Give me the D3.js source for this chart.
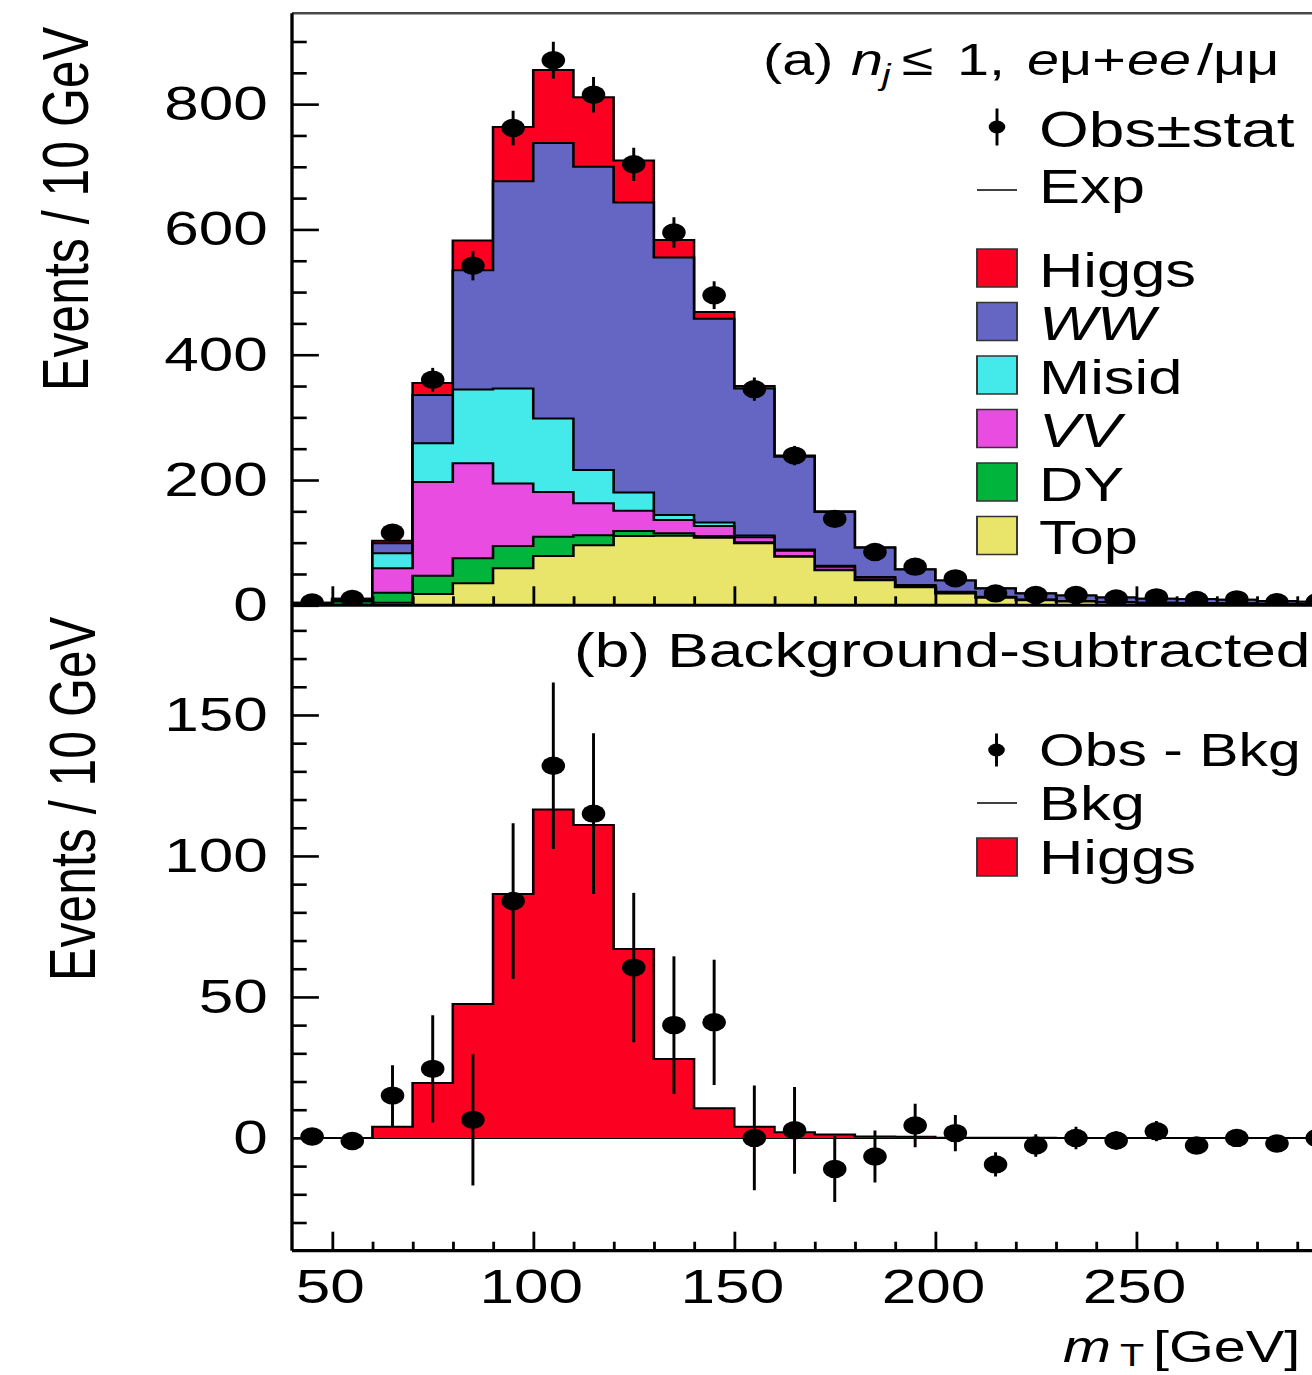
<!DOCTYPE html>
<html>
<head>
<meta charset="utf-8">
<script src="https://cdn.jsdelivr.net/npm/d3@7"></script>
<style>
  body { margin: 0; background: #fff; overflow: hidden; }
  text { font-family: "Liberation Sans", Arial, Helvetica, sans-serif; }
</style>
</head>
<body>
<svg id="chart"></svg>
<script>
// m_T distribution, 10 GeV bins (low edges)
const binLow = [40, 50, 60, 70, 80, 90, 100, 110, 120, 130, 140, 150, 160, 170, 180, 190, 200, 210, 220, 230, 240, 250, 260, 270, 280, 290]
const binEdgeMax = 300

// stacked expectation, events / bin
const topPair = [0.5, 1, 4, 18, 35, 59, 78.7, 96, 110.6, 111, 108, 99, 77.6, 56, 40, 29, 19, 12, 8, 6, 4.5, 3.5, 3, 2.5, 2, 1.5]
const drellYan = [2, 5, 16, 29, 40, 35.6, 30.8, 16, 8, 4, 2.6, 1.5, 1, 0.6, 0.5, 0.3, 0.2, 0.1, 0, 0, 0, 0, 0, 0, 0, 0]
const diboson = [0.5, 2, 39, 150, 151.6, 100, 71.5, 50.8, 32.4, 21, 16, 8, 8.4, 5, 3.5, 2.5, 1.8, 1.2, 0.8, 0.6, 0.5, 0.4, 0.4, 0.3, 0.3, 0.2]
const misid = [0.5, 1.5, 24, 61.5, 118, 151.3, 117, 53.2, 29, 8, 5.5, 3, 2, 1.5, 1, 0.7, 0.5, 0.4, 0.3, 0.2, 0.2, 0.1, 0.1, 0.1, 0, 0]
const ww = [0.5, 1, 16, 77, 190.4, 331, 440, 484, 463, 411, 325.4, 234.5, 148, 86, 47, 24.5, 18, 13.3, 9.9, 8.7, 7.3, 6.5, 6.5, 6.1, 4.7, 3.8]
const higgs = [0, 0, 4, 19.5, 47.5, 86.5, 116.5, 111, 67, 28, 10.5, 4, 2, 1.2, 0.5, 0.4, 0.1, 0.1, 0.1, 0, 0, 0, 0, 0, 0, 0]

// observed
const obsCounts = [4.5, 10, 116, 360, 542, 762, 870, 815, 704, 595, 495, 345, 239, 138, 85, 61.7, 43, 19, 16.4, 16.4, 11, 12.7, 8.5, 9.5, 5, 5]
const statErr = [2, 3.2, 10.8, 19, 23.3, 27.6, 29.5, 28.5, 26.5, 24.4, 22.2, 18.6, 15.4, 11.7, 9.2, 7.7, 6.4, 4.3, 4, 4, 3.3, 3.6, 2.9, 3, 2.2, 2.2]
const obsMinusBkg = [0.5, -1.1, 15, 24.5, 6.4, 84, 132, 115, 60.4, 40, 41, 0, 2.7, -11, -6.6, 4.4, 1.7, -9.4, -2.7, 0, -0.9, 2.4, -2.7, 0, -2, 0]

const keys = ['Top', 'DY', 'VV', 'Misid', 'WW', 'Higgs']
const colors = {
  Higgs: '#fb0020',
  WW: '#6566c3',
  Misid: '#44e9e9',
  VV: '#e84ce0',
  DY: '#00b43c',
  Top: '#e9e56b'
}

const W = 1312
const H = 1375
const SX = 1.28 // the whole figure is drawn a bit wider than tall

const svg = d3.select('#chart').attr('width', W).attr('height', H)
const g = svg.append('g').attr('transform', `scale(${SX},1)`)

const x = d3.scaleLinear().domain([40, 300]).range([292 / SX, 1337.3 / SX])
const yTop = d3.scaleLinear().domain([0, 945]).range([605.3, 13.3])
const yBot = d3.scaleLinear().domain([-40, 189]).range([1250.7, 605])

const defs = g.append('defs')
defs.append('clipPath').attr('id', 'clipTop')
  .append('rect')
  .attr('x', x(40)).attr('y', yTop(945))
  .attr('width', x(300) - x(40)).attr('height', yTop(0) - yTop(945))
defs.append('clipPath').attr('id', 'clipBot')
  .append('rect')
  .attr('x', x(40)).attr('y', yBot(189))
  .attr('width', x(300) - x(40)).attr('height', yBot(-40) - yBot(189))

function stepPoints (vals) {
  const pts = binLow.map((lo, i) => [lo, vals[i]])
  pts.push([binEdgeMax, vals[vals.length - 1]])
  return pts
}

// ---- (a) stacked histogram
const rows = binLow.map((lo, i) => ({
  lo,
  Top: topPair[i],
  DY: drellYan[i],
  VV: diboson[i],
  Misid: misid[i],
  WW: ww[i],
  Higgs: higgs[i]
}))
const stacked = d3.stack().keys(keys)(rows)

const topArea = d3.area()
  .curve(d3.curveStepAfter)
  .x(p => x(p[0]))
  .y0(yTop(0))
  .y1(p => yTop(p[1]))

const topG = g.append('g').attr('clip-path', 'url(#clipTop)')
stacked.slice().reverse().forEach(s => {
  topG.append('path')
    .datum(stepPoints(s.map(d => d[1])))
    .attr('d', topArea)
    .attr('fill', colors[s.key])
    .attr('stroke', '#000')
    .attr('stroke-width', 2)
})

// ---- (b) background subtracted
const botG = g.append('g').attr('clip-path', 'url(#clipBot)')
botG.append('line')
  .attr('x1', x(40)).attr('x2', x(300))
  .attr('y1', yBot(0)).attr('y2', yBot(0))
  .attr('stroke', '#000').attr('stroke-width', 2)

botG.append('path')
  .datum(stepPoints(higgs))
  .attr('d', d3.area().curve(d3.curveStepAfter)
    .x(p => x(p[0])).y0(yBot(0)).y1(p => yBot(p[1])))
  .attr('fill', colors.Higgs)

botG.append('path')
  .datum(stepPoints(higgs))
  .attr('d', d3.line().curve(d3.curveStepAfter)
    .x(p => x(p[0])).y(p => yBot(p[1])))
  .attr('fill', 'none')
  .attr('stroke', '#000')
  .attr('stroke-width', 2)

// ---- axes
const tickFont = 48.5
const family = '"Liberation Sans", Arial, Helvetica, sans-serif'

function styleAxis (sel, width) {
  sel.attr('font-family', family).attr('font-size', tickFont)
  sel.select('.domain').remove()
  sel.selectAll('.tick line').attr('stroke', '#000').attr('stroke-width', width)
  sel.selectAll('.tick text').attr('fill', '#000')
}

// y axes (ticks point inside)
g.append('g')
  .attr('transform', `translate(${x(40)},0)`)
  .call(d3.axisLeft(yTop).tickValues([0, 200, 400, 600, 800])
    .tickSize(-21).tickSizeOuter(0).tickPadding(19).tickFormat(d3.format('d')))
  .call(s => styleAxis(s, 2.6))
g.append('g')
  .attr('transform', `translate(${x(40)},0)`)
  .call(d3.axisLeft(yTop).tickValues(d3.range(50, 945, 50).filter(v => v % 200))
    .tickSize(-11.5).tickSizeOuter(0).tickFormat(''))
  .call(s => styleAxis(s, 2.6))

g.append('g')
  .attr('transform', `translate(${x(40)},0)`)
  .call(d3.axisLeft(yBot).tickValues([0, 50, 100, 150])
    .tickSize(-21).tickSizeOuter(0).tickPadding(19).tickFormat(d3.format('d')))
  .call(s => styleAxis(s, 2.6))
g.append('g')
  .attr('transform', `translate(${x(40)},0)`)
  .call(d3.axisLeft(yBot).tickValues(d3.range(-30, 189, 10).filter(v => v % 50))
    .tickSize(-11.5).tickSizeOuter(0).tickFormat(''))
  .call(s => styleAxis(s, 2.6))

// x axes (the picture is cut just before the 300 label)
const xMajor = [50, 100, 150, 200, 250]
const xMinor = d3.range(60, 300, 10).filter(v => v % 50)

g.append('g')
  .attr('transform', `translate(0,${yBot(-40)})`)
  .call(d3.axisBottom(x).tickValues(xMajor)
    .tickSize(-19).tickSizeOuter(0).tickPadding(18).tickFormat(d3.format('d')))
  .call(s => styleAxis(s, 2.2))
  .call(s => s.selectAll('.tick text').attr('dx', -2.5 / SX))
g.append('g')
  .attr('transform', `translate(0,${yBot(-40)})`)
  .call(d3.axisBottom(x).tickValues(xMinor).tickSize(-9).tickSizeOuter(0).tickFormat(''))
  .call(s => styleAxis(s, 2.2))

g.append('g')
  .attr('transform', `translate(0,${yTop(0)})`)
  .call(d3.axisBottom(x).tickValues(xMajor).tickSize(-19).tickSizeOuter(0).tickFormat(''))
  .call(s => styleAxis(s, 2.2))
g.append('g')
  .attr('transform', `translate(0,${yTop(0)})`)
  .call(d3.axisBottom(x).tickValues(xMinor).tickSize(-9).tickSizeOuter(0).tickFormat(''))
  .call(s => styleAxis(s, 2.2))

// frame lines
g.append('line')
  .attr('x1', x(40)).attr('x2', x(300))
  .attr('y1', yTop(945)).attr('y2', yTop(945))
  .attr('stroke', '#4a4a4a').attr('stroke-width', 2.6)
g.append('line')
  .attr('x1', x(40)).attr('x2', x(40))
  .attr('y1', yTop(945)).attr('y2', yBot(-40))
  .attr('stroke', '#000').attr('stroke-width', 2.6)
g.append('line')
  .attr('x1', x(40)).attr('x2', x(300))
  .attr('y1', yTop(0)).attr('y2', yTop(0))
  .attr('stroke', '#000').attr('stroke-width', 3)
g.append('line')
  .attr('x1', x(40)).attr('x2', x(300))
  .attr('y1', yBot(-40)).attr('y2', yBot(-40))
  .attr('stroke', '#000').attr('stroke-width', 3.2)

// ---- data points
const dotR = 9.2
const errW = 2.3

function drawPoints (parent, yS, vals) {
  const pts = parent.append('g')
  pts.selectAll('line.err')
    .data(vals)
    .join('line')
    .attr('class', 'err')
    .attr('x1', (d, i) => x(binLow[i] + 5))
    .attr('x2', (d, i) => x(binLow[i] + 5))
    .attr('y1', (d, i) => yS(d - statErr[i]))
    .attr('y2', (d, i) => yS(d + statErr[i]))
    .attr('stroke', '#000')
    .attr('stroke-width', errW)
  pts.selectAll('circle')
    .data(vals)
    .join('circle')
    .attr('cx', (d, i) => x(binLow[i] + 5))
    .attr('cy', d => yS(d))
    .attr('r', dotR)
    .attr('fill', '#000')
}

drawPoints(g.append('g').attr('clip-path', 'url(#clipTop)'), yTop, obsCounts)
drawPoints(g.append('g').attr('clip-path', 'url(#clipBot)'), yBot, obsMinusBkg)

// ---- axis titles
const tx = v => v / SX

g.append('text')
  .attr('transform', `translate(${tx(88)},27) rotate(-90)`)
  .attr('text-anchor', 'end')
  .attr('font-size', 50)
  .text('Events / 10 GeV')
g.append('text')
  .attr('transform', `translate(${tx(95)},617) rotate(-90)`)
  .attr('text-anchor', 'end')
  .attr('font-size', 50)
  .text('Events / 10 GeV')

const xTitle = g.append('text')
  .attr('x', tx(1063)).attr('y', 1362)
  .attr('font-size', 45)
xTitle.append('tspan').attr('font-style', 'italic').text('m')
xTitle.append('tspan').attr('x', tx(1120)).attr('dy', 4).attr('font-size', 31).text('T')
xTitle.append('tspan').attr('x', tx(1153)).attr('dy', -4).text('[GeV]')

// ---- panel labels
const labA = g.append('text').attr('y', 75).attr('font-size', 45)
labA.append('tspan').attr('x', tx(763)).text('(a)')
labA.append('tspan').attr('x', tx(851)).attr('font-style', 'italic').text('n')
labA.append('tspan').attr('x', tx(882)).attr('dy', 10).attr('font-size', 30).attr('font-style', 'italic').text('j')
labA.append('tspan').attr('x', tx(902)).attr('dy', -10).text('\u2264')
labA.append('tspan').attr('x', tx(957)).text('1,')
labA.append('tspan').attr('x', tx(1027)).attr('font-style', 'italic').text('e')
labA.append('tspan').attr('x', tx(1059)).text('\u03bc+')
labA.append('tspan').attr('x', tx(1127)).attr('font-style', 'italic').text('ee')
labA.append('tspan').attr('x', tx(1197)).text('/\u03bc\u03bc')

g.append('text')
  .attr('x', tx(574)).attr('y', 667)
  .attr('font-size', 48.6)
  .text('(b) Background-subtracted')

// ---- legends
const legFont = 48
const textX = tx(1039)
const boxX = tx(977)
const boxW = 40 / SX

function legendMarker (cx, cy, half) {
  g.append('line')
    .attr('x1', tx(cx)).attr('x2', tx(cx))
    .attr('y1', cy - half).attr('y2', cy + half)
    .attr('stroke', '#000').attr('stroke-width', errW)
  g.append('circle')
    .attr('cx', tx(cx)).attr('cy', cy)
    .attr('r', 6.5).attr('fill', '#000')
}

function legendLine (cy) {
  g.append('line')
    .attr('x1', boxX).attr('x2', boxX + boxW)
    .attr('y1', cy).attr('y2', cy)
    .attr('stroke', '#000').attr('stroke-width', 1.6)
}

function legendText (y, label, italic, size) {
  g.append('text')
    .attr('x', textX).attr('y', y)
    .attr('font-size', size || legFont)
    .attr('font-style', italic ? 'italic' : 'normal')
    .text(label)
}

legendMarker(997, 127, 18.5)
legendText(147, 'Obs\u00b1stat', false, 50)
legendLine(190)
legendText(203, 'Exp')

const legendA = [
  { key: 'Higgs', label: 'Higgs', italic: false },
  { key: 'WW', label: 'WW', italic: true },
  { key: 'Misid', label: 'Misid', italic: false },
  { key: 'VV', label: 'VV', italic: true },
  { key: 'DY', label: 'DY', italic: false },
  { key: 'Top', label: 'Top', italic: false }
]
legendA.forEach((d, i) => {
  const top = 249 + i * 53.5
  g.append('rect')
    .attr('x', boxX).attr('y', top)
    .attr('width', boxW).attr('height', 38)
    .attr('fill', colors[d.key])
    .attr('stroke', '#333').attr('stroke-width', 1.5)
  legendText(top + 38, d.label, d.italic)
})

legendMarker(996.5, 750, 16.5)
legendText(766, 'Obs - Bkg', false, 46)
legendLine(803)
legendText(820, 'Bkg')
g.append('rect')
  .attr('x', boxX).attr('y', 838)
  .attr('width', boxW).attr('height', 38)
  .attr('fill', colors.Higgs)
  .attr('stroke', '#333').attr('stroke-width', 1.5)
legendText(874, 'Higgs')
</script>
</body>
</html>
